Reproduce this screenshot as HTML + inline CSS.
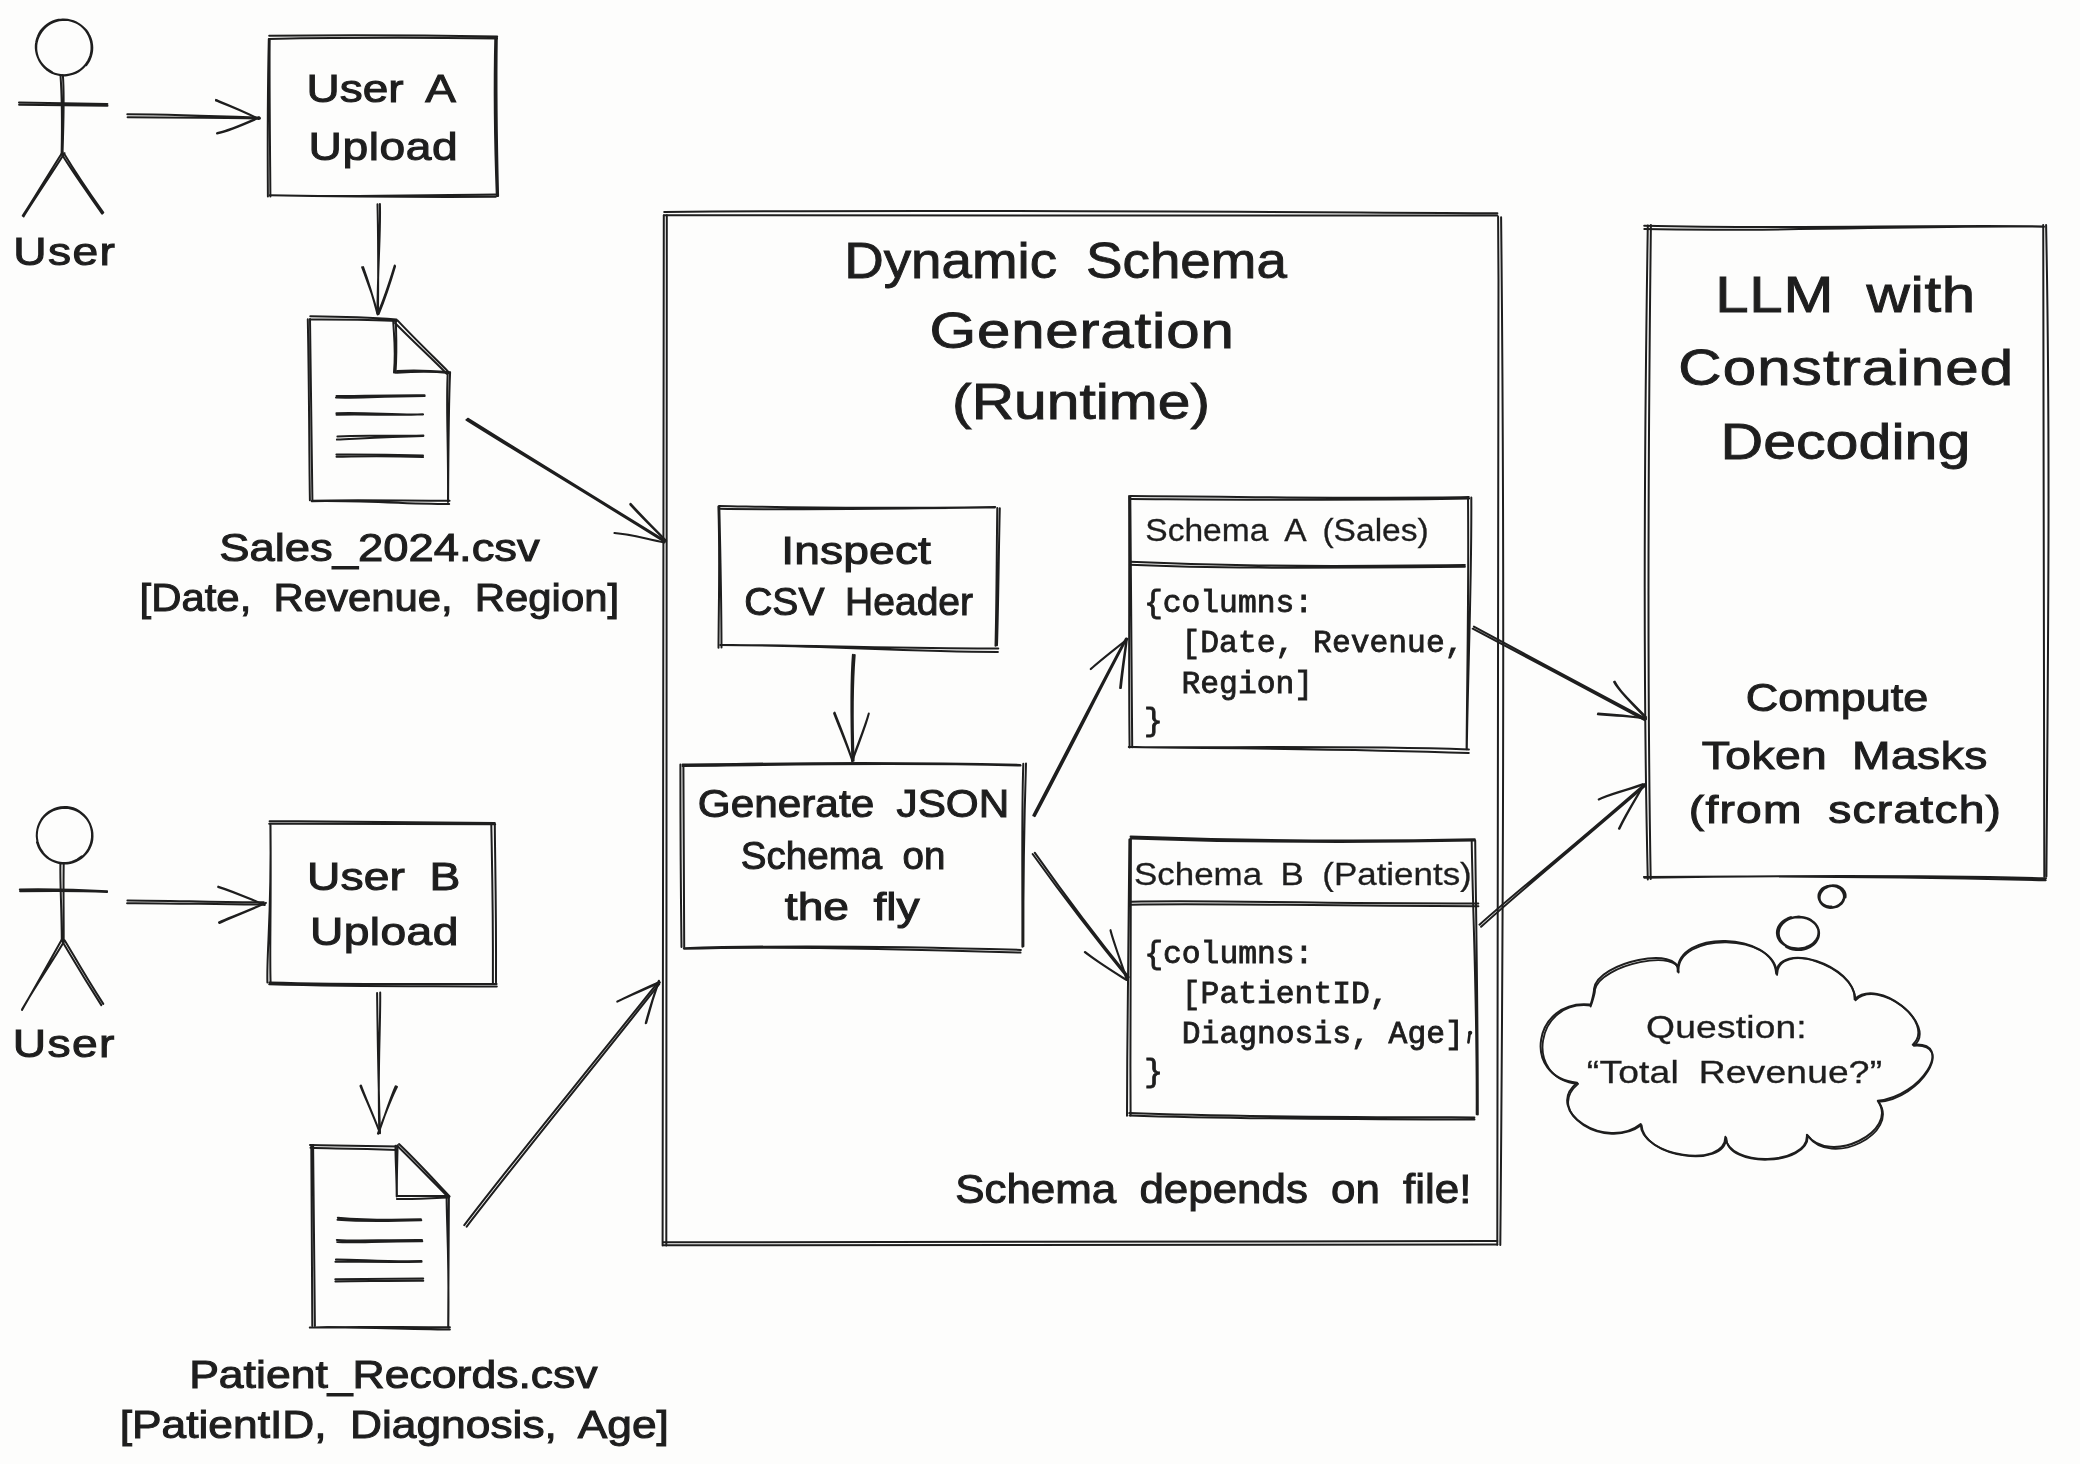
<!DOCTYPE html><html><head><meta charset="utf-8"><style>html,body{margin:0;padding:0;background:#fdfdfc;}svg{display:block}</style></head><body>
<svg width="2080" height="1464" viewBox="0 0 2080 1464">
<rect width="2080" height="1464" fill="#fdfdfc"/>
<g fill="none" stroke="#1e1e1e" stroke-linecap="round" stroke-linejoin="round">
<path d="M51.8 71.9C51.0 71.4 48.3 70.0 46.8 68.8C45.2 67.6 43.7 66.2 42.5 64.7C41.2 63.2 40.0 61.6 39.1 59.8C38.2 58.1 37.4 56.2 36.8 54.2C36.3 52.3 35.9 50.3 35.8 48.3C35.7 46.3 35.8 44.2 36.2 42.2C36.5 40.2 37.1 38.2 37.9 36.3C38.6 34.4 39.7 32.6 40.8 30.9C42.0 29.3 43.4 27.7 44.9 26.4C46.5 25.0 48.2 23.8 49.9 22.8C51.7 21.9 53.6 21.1 55.6 20.5C57.5 19.9 59.6 19.6 61.6 19.5C63.6 19.3 65.6 19.4 67.6 19.7C69.6 20.0 71.6 20.6 73.4 21.3C75.3 22.0 77.1 22.9 78.8 24.0C80.4 25.1 82.0 26.4 83.4 27.8C84.8 29.2 86.1 30.8 87.1 32.4C88.2 34.1 89.1 35.9 89.8 37.8C90.5 39.6 91.0 41.6 91.3 43.5C91.6 45.5 91.6 47.5 91.5 49.4C91.4 51.4 91.0 53.4 90.5 55.3C89.9 57.2 89.1 59.1 88.2 60.8C87.2 62.5 86.1 64.2 84.8 65.7C83.5 67.2 82.0 68.5 80.4 69.7C78.8 70.9 77.1 71.9 75.3 72.7C73.5 73.6 71.6 74.2 69.6 74.6C67.7 75.0 65.7 75.2 63.7 75.2C61.7 75.2 59.7 75.0 57.7 74.6C55.8 74.2 53.8 73.6 52.0 72.7C50.2 71.9 47.7 70.2 46.8 69.7 M89.8 57.4C89.4 58.3 88.2 61.1 87.1 62.8C86.0 64.5 84.7 66.1 83.3 67.5C81.8 68.9 80.2 70.2 78.5 71.3C76.8 72.3 74.9 73.2 73.0 73.9C71.1 74.6 69.0 75.0 67.0 75.2C65.0 75.5 62.9 75.5 60.9 75.3C58.9 75.0 56.9 74.6 54.9 73.9C53.0 73.3 51.1 72.4 49.4 71.3C47.7 70.3 46.0 69.0 44.6 67.6C43.1 66.2 41.8 64.5 40.7 62.8C39.6 61.1 38.7 59.3 38.0 57.4C37.3 55.5 36.8 53.5 36.5 51.5C36.2 49.5 36.2 47.4 36.3 45.4C36.5 43.4 36.9 41.3 37.5 39.4C38.1 37.5 39.0 35.6 40.0 33.9C41.0 32.1 42.2 30.5 43.5 29.0C44.9 27.5 46.4 26.1 48.1 25.0C49.7 23.8 51.5 22.8 53.3 22.0C55.2 21.3 57.2 20.7 59.1 20.3C61.1 19.9 63.2 19.8 65.2 19.8C67.2 19.9 69.2 20.2 71.2 20.7C73.1 21.2 75.1 21.9 76.9 22.8C78.7 23.7 80.4 24.9 82.0 26.2C83.6 27.4 85.0 28.9 86.3 30.5C87.6 32.1 88.7 33.9 89.5 35.8C90.4 37.6 91.1 39.6 91.6 41.6C92.0 43.6 92.3 45.7 92.3 47.7C92.3 49.8 92.1 51.9 91.6 53.9C91.2 55.9 90.5 57.9 89.6 59.8C88.7 61.7 86.9 64.2 86.4 65.1" stroke-width="2.0"/>
<path d="M62.9 75.3C64.6 97.7 63.4 121.0 62.5 154.8 M60.5 75.3C62.1 97.7 62.3 121.0 61.6 154.4" stroke-width="2.0"/>
<path d="M19.0 102.6C46.7 102.8 74.5 103.6 107.4 103.9 M19.1 104.7C46.7 105.1 74.5 105.3 107.5 105.7" stroke-width="2.0"/>
<path d="M64.5 153.2C48.8 177.8 33.6 200.4 23.6 216.4 M62.5 152.2C46.8 176.5 33.2 200.2 22.7 215.7" stroke-width="2.0"/>
<path d="M64.0 153.6C73.6 169.5 83.3 184.5 103.3 212.7 M62.0 154.6C71.7 170.8 82.2 185.2 102.1 213.6" stroke-width="2.0"/>
<path d="M42.7 852.2C42.2 851.4 40.4 848.9 39.5 847.1C38.6 845.3 38.0 843.3 37.5 841.3C37.1 839.3 36.8 837.2 36.8 835.2C36.8 833.1 37.1 831.0 37.5 829.0C38.0 827.0 38.7 825.0 39.6 823.2C40.6 821.3 41.7 819.5 43.0 817.9C44.4 816.3 45.9 814.8 47.5 813.6C49.2 812.3 51.0 811.2 52.9 810.3C54.8 809.5 56.9 808.8 58.9 808.4C60.9 808.0 63.1 807.8 65.2 807.8C67.3 807.9 69.4 808.2 71.4 808.7C73.4 809.2 75.4 810.0 77.3 810.9C79.1 811.8 80.9 813.0 82.5 814.4C84.1 815.7 85.6 817.2 86.9 818.9C88.1 820.6 89.2 822.4 90.1 824.3C90.9 826.2 91.6 828.2 92.0 830.3C92.4 832.3 92.6 834.4 92.5 836.5C92.5 838.6 92.2 840.7 91.7 842.7C91.1 844.7 90.4 846.7 89.4 848.5C88.5 850.3 87.3 852.1 85.9 853.7C84.6 855.2 83.1 856.7 81.4 857.9C79.8 859.1 78.0 860.2 76.1 861.0C74.2 861.8 72.3 862.5 70.3 862.9C68.3 863.3 66.2 863.5 64.2 863.5C62.1 863.5 60.0 863.2 58.1 862.7C56.1 862.3 54.1 861.6 52.3 860.7C50.4 859.8 48.6 858.7 47.0 857.5C45.4 856.2 43.9 854.7 42.6 853.2C41.2 851.6 40.1 849.8 39.1 847.9C38.2 846.1 37.3 843.0 36.9 842.1 M81.9 856.2C81.1 856.8 78.8 858.6 77.1 859.6C75.4 860.5 73.6 861.3 71.7 861.9C69.9 862.4 67.9 862.8 66.0 863.0C64.0 863.1 62.0 863.0 60.1 862.7C58.1 862.5 56.2 861.9 54.3 861.2C52.5 860.5 50.7 859.6 49.0 858.5C47.4 857.4 45.8 856.1 44.5 854.7C43.1 853.2 41.9 851.6 40.8 849.9C39.8 848.2 38.9 846.4 38.3 844.5C37.6 842.6 37.2 840.6 37.0 838.6C36.7 836.6 36.7 834.5 36.9 832.5C37.1 830.5 37.5 828.5 38.1 826.5C38.7 824.6 39.5 822.7 40.6 820.9C41.6 819.1 42.8 817.4 44.2 815.9C45.6 814.4 47.2 813.0 48.9 811.8C50.7 810.6 52.6 809.6 54.5 808.8C56.5 808.0 58.6 807.5 60.6 807.2C62.7 806.9 64.9 806.8 67.0 807.0C69.1 807.2 71.2 807.7 73.2 808.3C75.2 809.0 77.1 809.9 78.9 811.0C80.7 812.1 82.3 813.5 83.8 814.9C85.3 816.4 86.6 818.1 87.7 819.8C88.8 821.5 89.7 823.4 90.4 825.3C91.1 827.2 91.5 829.2 91.8 831.2C92.1 833.2 92.1 835.3 92.0 837.3C91.8 839.2 91.5 841.3 90.9 843.2C90.4 845.1 89.6 846.9 88.7 848.7C87.7 850.4 86.6 852.1 85.4 853.6C84.1 855.2 82.6 856.6 81.1 857.8C79.5 859.0 76.8 860.4 76.0 861.0" stroke-width="2.0"/>
<path d="M63.7 863.8C63.3 885.6 63.7 905.8 63.7 941.1 M60.4 864.0C60.0 885.6 61.6 905.8 61.8 940.6" stroke-width="2.0"/>
<path d="M20.1 891.3C52.9 890.8 87.0 891.1 107.1 891.9 M19.8 889.4C52.9 888.9 87.0 890.1 107.1 891.3" stroke-width="2.0"/>
<path d="M64.2 941.3C51.6 962.9 36.9 983.7 22.0 1009.5 M61.7 939.8C49.4 961.6 37.1 983.8 22.0 1010.0" stroke-width="2.0"/>
<path d="M64.6 940.2C73.3 954.4 82.1 971.0 103.3 1003.9 M62.2 941.3C71.0 955.8 80.1 972.2 101.3 1005.1" stroke-width="2.0"/>
<path d="M127.6 117.3C169.9 117.5 214.8 117.1 260.0 118.5 M127.3 114.3C169.9 114.5 214.8 116.0 259.8 117.7" stroke-width="2.0"/>
<path d="M216.0 99.9C228.3 104.9 241.4 110.1 258.8 119.0 M216.0 100.6C228.1 105.3 241.4 110.2 258.4 118.9" stroke-width="2.0"/>
<path d="M217.3 133.0C228.3 130.7 237.5 126.9 259.0 117.2 M217.0 133.5C228.5 131.1 237.6 127.3 259.1 117.7" stroke-width="2.0"/>
<path d="M127.1 903.2C170.9 902.9 216.3 904.6 264.0 904.6 M127.4 900.4C170.9 900.4 216.3 902.5 263.8 902.3" stroke-width="2.0"/>
<path d="M218.1 887.0C233.2 891.6 248.4 898.4 264.8 905.0 M218.3 886.6C233.4 891.2 248.4 898.2 264.4 904.8" stroke-width="2.0"/>
<path d="M219.4 923.0C228.7 918.5 237.8 915.3 265.7 903.1 M219.0 922.3C228.5 917.9 237.7 915.0 265.9 902.8" stroke-width="2.0"/>
<path d="M268.8 38.9C340.2 37.7 412.1 37.5 497.1 38.4 M269.2 35.7C340.2 34.8 412.1 35.0 497.2 36.4" stroke-width="2.0"/>
<path d="M496.8 37.4C495.9 95.7 497.1 155.9 498.1 196.1 M495.3 37.1C493.9 95.7 495.3 155.9 496.8 196.0" stroke-width="2.0"/>
<path d="M495.8 196.8C429.2 197.1 360.3 197.0 269.8 195.3 M495.6 194.4C429.2 194.6 360.3 197.5 269.8 195.3" stroke-width="2.0"/>
<path d="M267.9 196.4C267.5 134.8 268.1 70.2 268.8 39.6 M270.4 196.4C269.9 134.8 269.2 70.2 269.7 39.4" stroke-width="2.0"/>
<path d="M269.2 823.8C349.9 823.9 433.1 823.7 495.2 824.2 M269.6 821.2C349.9 821.5 433.1 822.6 494.8 823.1" stroke-width="2.0"/>
<path d="M494.8 824.7C495.1 864.1 496.3 903.2 496.0 982.6 M491.3 824.2C492.0 864.1 493.2 903.2 492.9 983.1" stroke-width="2.0"/>
<path d="M496.6 984.0C428.1 983.6 360.5 985.1 269.3 982.5 M496.8 986.5C428.1 985.9 360.5 986.9 269.2 984.2" stroke-width="2.0"/>
<path d="M270.6 982.8C269.5 949.1 271.3 917.8 270.5 824.9 M267.4 982.6C266.6 949.1 271.7 917.8 270.4 824.8" stroke-width="2.0"/>
<path d="M377.5 204.3C378.2 231.9 378.4 260.8 378.0 313.3 M379.9 203.9C380.8 231.9 377.9 260.8 377.4 312.9" stroke-width="2.0"/>
<path d="M362.1 267.2C366.6 279.2 371.4 290.5 378.1 314.2 M363.1 267.1C367.4 278.9 371.4 290.5 377.6 314.5" stroke-width="2.0"/>
<path d="M395.1 266.1C390.4 282.1 385.4 297.4 378.7 313.9 M394.7 265.5C389.7 281.9 385.0 297.3 377.8 313.4" stroke-width="2.0"/>
<path d="M377.1 992.9C377.6 1031.2 377.9 1067.6 380.0 1133.3 M380.2 992.6C380.5 1031.1 377.5 1067.7 379.3 1133.1" stroke-width="2.0"/>
<path d="M361.0 1085.5C365.4 1097.5 370.5 1108.6 379.6 1131.7 M360.4 1085.9C365.0 1097.6 370.5 1108.6 379.5 1131.8" stroke-width="2.0"/>
<path d="M395.7 1086.2C391.3 1095.8 388.3 1105.6 378.4 1133.6 M397.0 1086.9C392.1 1096.1 388.3 1105.6 377.9 1133.6" stroke-width="2.0"/>
<path d="M310.5 319.4C343.1 319.4 373.4 319.2 396.6 321.0 M310.3 316.2C343.1 316.6 373.4 317.7 396.4 319.4" stroke-width="2.0"/>
<path d="M397.5 320.4C416.0 340.1 435.7 358.9 448.2 371.6 M395.0 323.0C413.9 342.2 434.0 360.6 446.7 373.8" stroke-width="2.0"/>
<path d="M450.1 372.2C448.6 405.1 448.4 437.5 448.1 501.8 M447.8 372.1C445.8 405.1 448.5 437.5 448.0 502.0" stroke-width="2.0"/>
<path d="M449.6 500.8C400.6 500.7 349.7 499.6 312.0 500.8 M449.2 504.0C400.6 503.6 349.7 500.0 311.7 501.2" stroke-width="2.0"/>
<path d="M312.4 500.3C311.7 451.8 311.4 403.4 310.0 319.0 M309.9 500.2C309.1 451.8 309.4 403.4 307.8 319.3" stroke-width="2.0"/>
<path d="M395.8 320.1C396.1 334.6 397.2 349.0 395.5 372.8 M393.2 320.0C393.7 334.6 396.1 349.0 394.0 372.6" stroke-width="2.0"/>
<path d="M396.8 372.8C416.5 371.5 437.3 371.8 448.9 373.0 M397.0 371.1C416.5 369.5 437.3 371.2 449.4 372.3" stroke-width="2.0"/>
<path d="M336.5 395.9C355.0 396.4 373.2 395.0 424.6 395.2 M336.0 397.5C355.0 398.3 373.2 396.5 424.7 396.1" stroke-width="2.0"/>
<path d="M336.5 414.7C366.9 413.9 395.8 415.7 422.9 414.3 M336.4 413.3C366.9 412.1 395.8 415.4 423.1 414.4" stroke-width="2.0"/>
<path d="M337.4 436.4C361.7 435.1 387.9 436.5 423.4 435.5 M336.9 439.6C361.7 438.4 387.9 436.7 423.3 435.9" stroke-width="2.0"/>
<path d="M336.4 454.4C358.3 454.5 378.9 454.3 423.0 455.6 M336.5 456.7C358.3 456.5 378.9 455.4 423.0 457.1" stroke-width="2.0"/>
<path d="M310.0 1145.0C329.5 1145.6 348.0 1145.1 397.4 1146.5 M310.5 1147.8C329.5 1148.6 348.0 1148.1 397.1 1149.9" stroke-width="2.0"/>
<path d="M397.2 1145.7C414.9 1162.9 432.1 1180.8 448.5 1197.5 M399.0 1144.1C416.8 1161.0 433.5 1179.4 449.6 1196.4" stroke-width="2.0"/>
<path d="M448.9 1196.4C448.5 1225.4 448.9 1253.6 448.2 1327.3 M446.6 1196.8C446.7 1225.4 449.2 1253.6 448.3 1327.5" stroke-width="2.0"/>
<path d="M449.9 1327.3C395.9 1327.3 343.7 1326.3 309.8 1327.6 M449.9 1329.6C395.9 1329.2 343.7 1326.4 310.3 1327.6" stroke-width="2.0"/>
<path d="M312.3 1326.1C312.0 1282.4 312.1 1237.2 311.3 1145.5 M314.9 1326.1C314.5 1282.4 313.9 1237.2 313.1 1145.1" stroke-width="2.0"/>
<path d="M397.6 1145.3C397.4 1159.4 396.6 1174.7 396.9 1196.3 M395.5 1145.7C395.3 1159.4 396.7 1174.7 396.7 1196.4" stroke-width="2.0"/>
<path d="M397.1 1196.0C415.2 1195.9 433.4 1196.3 448.1 1195.9 M396.9 1199.1C415.2 1199.1 433.4 1197.9 448.6 1197.5" stroke-width="2.0"/>
<path d="M337.5 1219.8C357.5 1221.3 379.4 1221.5 421.3 1220.3 M337.8 1217.7C357.5 1219.4 379.4 1220.5 420.9 1219.3" stroke-width="2.0"/>
<path d="M336.8 1239.9C356.9 1241.3 376.5 1239.9 422.0 1240.0 M337.2 1242.1C356.9 1243.2 376.5 1241.1 422.3 1241.2" stroke-width="2.0"/>
<path d="M335.4 1261.7C359.9 1261.7 384.2 1262.3 421.6 1261.8 M335.9 1259.4C359.9 1259.3 384.2 1261.9 421.5 1261.0" stroke-width="2.0"/>
<path d="M335.4 1281.4C367.0 1281.2 396.1 1280.6 423.3 1280.7 M335.3 1279.3C367.0 1278.7 396.1 1278.7 423.2 1278.4" stroke-width="2.0"/>
<path d="M466.5 419.9C506.2 445.1 546.5 468.7 664.7 541.8 M467.8 418.7C507.2 443.4 546.9 468.0 664.8 540.7" stroke-width="2.0"/>
<path d="M630.5 503.7C644.7 519.3 658.7 533.1 666.2 541.0 M630.3 504.6C644.1 519.8 658.6 533.2 665.7 540.9" stroke-width="2.0"/>
<path d="M614.4 533.1C631.3 534.4 645.8 538.9 664.4 542.5 M614.5 533.0C631.3 534.2 645.8 538.9 664.5 542.3" stroke-width="2.0"/>
<path d="M464.3 1225.1C518.5 1154.0 574.7 1087.0 657.5 982.8 M466.7 1226.6C520.9 1156.0 576.6 1088.5 659.2 984.2" stroke-width="2.0"/>
<path d="M617.4 1001.5C630.0 995.5 641.6 989.8 659.6 982.0 M617.2 1001.6C630.2 995.9 641.8 990.2 659.9 982.5" stroke-width="2.0"/>
<path d="M646.2 1023.0C648.8 1013.6 650.7 1004.7 659.0 981.0 M645.7 1023.2C648.2 1013.4 650.6 1004.7 658.8 980.7" stroke-width="2.0"/>
<path d="M663.8 215.3C991.0 214.7 1318.9 215.9 1497.4 215.6 M664.2 211.9C991.0 209.3 1318.9 212.5 1497.4 213.2" stroke-width="2.0"/>
<path d="M1498.1 216.7C1500.4 563.3 1499.7 910.8 1497.3 1244.7 M1501.1 217.2C1504.9 563.3 1503.3 910.8 1500.3 1245.1" stroke-width="2.0"/>
<path d="M1497.3 1244.5C1181.9 1246.1 864.9 1245.2 663.5 1245.3 M1497.3 1241.1C1181.9 1241.6 864.9 1241.5 663.3 1242.3" stroke-width="2.0"/>
<path d="M662.6 1245.6C662.3 963.7 661.0 682.0 663.8 215.6 M666.3 1245.6C667.4 963.7 665.3 682.0 666.8 215.2" stroke-width="2.0"/>
<path d="M719.2 505.9C777.5 507.0 831.4 509.3 995.2 506.9 M719.0 508.8C777.5 510.1 831.4 509.4 994.8 507.4" stroke-width="2.0"/>
<path d="M997.3 507.9C996.6 557.5 996.6 605.8 995.5 645.8 M999.8 508.3C998.6 557.5 998.3 605.8 997.0 645.3" stroke-width="2.0"/>
<path d="M998.3 648.4C905.3 648.7 817.6 645.2 720.5 645.0 M997.9 652.0C905.3 651.9 817.6 645.3 720.2 645.0" stroke-width="2.0"/>
<path d="M721.5 647.6C721.4 601.9 720.5 557.4 719.3 506.2 M718.5 647.7C718.7 601.9 720.1 557.4 718.4 506.6" stroke-width="2.0"/>
<path d="M852.9 654.7C851.0 678.0 850.7 703.5 852.3 760.4 M854.7 655.0C852.9 678.0 851.7 703.5 853.6 760.8" stroke-width="2.0"/>
<path d="M834.1 713.3C840.5 730.0 848.6 749.1 852.3 760.8 M834.6 712.6C841.3 729.8 849.1 748.9 852.3 760.9" stroke-width="2.0"/>
<path d="M868.8 713.5C865.3 725.8 859.8 739.3 852.0 760.8 M868.8 713.6C865.8 726.0 860.0 739.4 852.2 761.2" stroke-width="2.0"/>
<path d="M682.6 766.0C773.1 765.7 864.5 761.8 1020.6 765.6 M682.6 764.5C773.1 763.9 864.5 761.0 1020.3 764.9" stroke-width="2.0"/>
<path d="M1023.3 763.7C1021.6 814.4 1022.5 862.1 1022.4 946.7 M1026.0 763.5C1024.4 814.4 1023.1 862.1 1023.4 946.3" stroke-width="2.0"/>
<path d="M1020.9 949.9C894.3 946.2 768.5 945.5 683.8 948.2 M1020.5 952.6C894.3 948.6 768.5 946.0 684.0 948.8" stroke-width="2.0"/>
<path d="M684.2 946.9C684.0 906.2 683.3 861.1 683.4 764.9 M681.5 947.0C681.0 906.2 680.4 861.1 680.4 764.6" stroke-width="2.0"/>
<path d="M1033.3 815.4C1069.7 745.8 1105.2 676.3 1126.0 638.5 M1034.8 816.1C1071.5 746.8 1106.2 676.9 1126.9 638.6" stroke-width="2.0"/>
<path d="M1090.7 669.1C1102.5 658.7 1116.1 648.3 1127.6 639.0 M1090.9 668.9C1102.4 658.6 1116.0 648.2 1127.3 639.2" stroke-width="2.0"/>
<path d="M1120.1 688.0C1122.0 670.0 1124.8 652.3 1126.4 639.9 M1120.9 687.9C1122.7 670.1 1125.3 652.4 1126.8 639.9" stroke-width="2.0"/>
<path d="M1032.6 854.0C1062.7 895.8 1092.8 935.4 1127.9 978.1 M1034.7 852.7C1064.3 894.6 1094.0 934.5 1128.7 977.2" stroke-width="2.0"/>
<path d="M1084.8 952.1C1098.4 962.4 1112.6 971.2 1126.3 979.9 M1085.2 952.0C1098.4 962.5 1112.6 971.2 1125.9 979.7" stroke-width="2.0"/>
<path d="M1110.5 930.4C1112.8 940.0 1117.3 951.5 1126.7 978.6 M1110.5 930.1C1112.9 939.9 1117.4 951.5 1126.4 978.9" stroke-width="2.0"/>
<path d="M1130.6 496.0C1254.5 496.7 1374.9 499.0 1468.8 497.1 M1130.9 499.0C1254.5 499.7 1374.9 500.7 1469.1 498.6" stroke-width="2.0"/>
<path d="M1468.0 497.2C1468.9 584.2 1467.2 669.4 1466.6 748.8 M1471.3 497.6C1471.8 584.2 1467.9 669.4 1466.8 749.2" stroke-width="2.0"/>
<path d="M1468.9 749.5C1336.5 745.1 1212.6 748.2 1129.1 747.0 M1468.8 753.0C1336.5 748.3 1212.6 748.3 1128.8 747.0" stroke-width="2.0"/>
<path d="M1132.2 747.3C1131.6 671.9 1130.6 593.7 1130.3 496.2 M1129.6 747.4C1128.6 671.9 1129.6 593.7 1129.1 495.9" stroke-width="2.0"/>
<path d="M1130.1 561.8C1207.0 565.3 1284.1 567.0 1464.9 565.1 M1129.9 564.7C1207.0 568.2 1284.1 568.2 1464.9 566.8" stroke-width="2.0"/>
<path d="M1130.5 838.4C1243.8 842.4 1364.5 842.8 1474.5 840.6 M1130.6 836.4C1243.8 840.6 1364.5 841.5 1474.8 839.3" stroke-width="2.0"/>
<path d="M1475.2 840.4C1476.1 921.8 1477.8 1001.6 1477.8 1114.6 M1471.7 840.4C1473.0 921.8 1477.2 1001.6 1476.7 1114.3" stroke-width="2.0"/>
<path d="M1474.4 1117.4C1357.2 1117.2 1238.4 1117.3 1129.3 1113.1 M1474.5 1119.6C1357.2 1119.3 1238.4 1119.2 1129.6 1115.4" stroke-width="2.0"/>
<path d="M1130.6 1115.4C1130.2 1025.4 1130.2 938.0 1130.9 839.0 M1127.0 1115.8C1127.0 1025.4 1129.2 938.0 1129.4 839.4" stroke-width="2.0"/>
<path d="M1131.5 904.7C1206.5 903.0 1288.0 905.7 1478.4 906.2 M1131.5 901.8C1206.5 899.9 1288.0 903.4 1478.3 903.5" stroke-width="2.0"/>
<path d="M1473.9 626.6C1531.9 657.7 1587.3 688.0 1646.0 719.0 M1472.7 628.7C1531.1 659.3 1586.8 689.0 1645.1 720.4" stroke-width="2.0"/>
<path d="M1614.1 682.0C1618.8 690.8 1626.8 698.3 1645.4 717.6 M1614.8 681.6C1619.3 690.4 1627.1 698.0 1646.1 717.1" stroke-width="2.0"/>
<path d="M1598.1 713.4C1612.8 714.3 1630.6 716.1 1645.7 718.6 M1597.8 714.3C1612.7 715.2 1630.6 716.0 1645.6 718.6" stroke-width="2.0"/>
<path d="M1479.5 924.7C1516.0 892.0 1554.9 861.9 1644.3 784.4 M1481.1 926.8C1517.4 893.7 1555.7 862.8 1645.2 785.7" stroke-width="2.0"/>
<path d="M1598.8 799.3C1607.1 795.0 1616.5 793.1 1642.7 784.1 M1598.7 799.5C1607.2 795.4 1616.6 793.3 1642.4 784.7" stroke-width="2.0"/>
<path d="M1618.9 828.6C1626.2 813.2 1636.8 796.8 1644.0 784.2 M1619.4 828.8C1626.6 813.4 1637.0 796.9 1644.0 784.6" stroke-width="2.0"/>
<path d="M1644.2 225.7C1784.4 229.2 1920.8 224.8 2043.6 226.4 M1644.3 229.1C1784.4 232.2 1920.8 225.0 2044.0 226.7" stroke-width="2.0"/>
<path d="M2043.2 225.1C2045.3 418.2 2044.9 610.9 2044.3 876.8 M2046.1 225.0C2050.0 418.2 2048.5 610.9 2046.4 876.6" stroke-width="2.0"/>
<path d="M2046.0 878.3C1916.7 875.2 1790.5 875.5 1644.4 877.7 M2045.7 880.2C1916.7 877.4 1790.5 875.2 1643.9 877.0" stroke-width="2.0"/>
<path d="M1647.8 879.4C1642.9 675.3 1644.0 470.7 1647.8 225.4 M1650.7 879.1C1647.1 675.3 1648.0 470.7 1650.9 225.1" stroke-width="2.0"/>
<path d="M1843.7 892.7C1843.8 893.1 1844.2 894.3 1844.3 895.0C1844.4 895.8 1844.3 896.6 1844.2 897.3C1844.1 898.1 1843.9 898.8 1843.6 899.6C1843.3 900.3 1843.0 901.0 1842.5 901.7C1842.1 902.3 1841.6 902.9 1841.0 903.5C1840.4 904.1 1839.7 904.7 1839.0 905.2C1838.3 905.6 1837.5 906.1 1836.6 906.4C1835.8 906.8 1834.8 907.1 1833.9 907.3C1833.0 907.5 1832.0 907.6 1831.0 907.6C1830.0 907.6 1829.0 907.5 1828.0 907.3C1827.0 907.1 1826.1 906.7 1825.2 906.3C1824.3 905.9 1823.5 905.4 1822.8 904.8C1822.1 904.2 1821.5 903.5 1821.0 902.8C1820.5 902.1 1820.1 901.3 1819.8 900.5C1819.6 899.7 1819.4 898.9 1819.4 898.1C1819.4 897.3 1819.4 896.5 1819.6 895.7C1819.8 895.0 1820.0 894.2 1820.3 893.5C1820.7 892.8 1821.1 892.1 1821.5 891.5C1822.0 890.8 1822.6 890.2 1823.1 889.7C1823.7 889.1 1824.4 888.6 1825.1 888.1C1825.8 887.6 1826.6 887.2 1827.4 886.8C1828.2 886.5 1829.1 886.2 1830.0 886.0C1831.0 885.8 1831.9 885.6 1832.9 885.6C1833.9 885.6 1834.9 885.6 1835.9 885.8C1836.8 886.0 1837.8 886.3 1838.7 886.6C1839.6 887.0 1840.5 887.5 1841.2 888.1C1842.0 888.6 1842.7 889.3 1843.2 890.0C1843.8 890.7 1844.3 891.5 1844.6 892.3C1844.9 893.1 1845.2 893.9 1845.3 894.7C1845.4 895.6 1845.3 896.8 1845.3 897.2 M1831.4 906.8C1830.9 906.8 1829.6 906.8 1828.7 906.6C1827.8 906.5 1826.9 906.2 1826.0 905.9C1825.2 905.6 1824.3 905.2 1823.6 904.7C1822.9 904.2 1822.2 903.7 1821.6 903.1C1821.0 902.4 1820.4 901.7 1820.0 901.0C1819.6 900.3 1819.2 899.5 1819.0 898.7C1818.8 898.0 1818.7 897.1 1818.7 896.3C1818.7 895.5 1818.8 894.7 1819.0 893.9C1819.2 893.1 1819.6 892.3 1820.0 891.6C1820.4 890.9 1821.0 890.2 1821.6 889.5C1822.2 888.9 1822.9 888.3 1823.7 887.8C1824.4 887.3 1825.3 886.9 1826.2 886.6C1827.0 886.3 1828.0 886.0 1828.9 885.9C1829.9 885.7 1830.8 885.6 1831.8 885.7C1832.7 885.7 1833.7 885.8 1834.6 886.0C1835.5 886.2 1836.3 886.5 1837.2 886.8C1838.0 887.2 1838.8 887.6 1839.5 888.1C1840.2 888.6 1840.8 889.2 1841.4 889.8C1841.9 890.3 1842.4 891.0 1842.8 891.7C1843.2 892.3 1843.5 893.0 1843.7 893.8C1844.0 894.5 1844.1 895.2 1844.2 896.0C1844.2 896.7 1844.2 897.5 1844.0 898.2C1843.9 898.9 1843.7 899.7 1843.4 900.4C1843.1 901.1 1842.7 901.8 1842.2 902.4C1841.7 903.1 1841.2 903.7 1840.5 904.3C1839.9 904.8 1839.2 905.4 1838.4 905.8C1837.6 906.2 1836.8 906.6 1835.9 906.9C1835.0 907.2 1834.1 907.4 1833.1 907.6C1832.2 907.7 1831.2 907.7 1830.2 907.7C1829.2 907.6 1827.8 907.3 1827.3 907.2" stroke-width="2.5"/>
<path d="M1789.3 947.3C1788.7 947.0 1786.8 946.1 1785.8 945.4C1784.7 944.7 1783.7 943.9 1782.8 943.0C1782.0 942.2 1781.3 941.2 1780.7 940.3C1780.1 939.3 1779.6 938.3 1779.2 937.2C1778.9 936.2 1778.7 935.1 1778.6 934.1C1778.5 933.0 1778.6 932.0 1778.8 930.9C1778.9 929.9 1779.3 928.8 1779.7 927.8C1780.1 926.8 1780.7 925.8 1781.4 924.9C1782.1 924.0 1782.9 923.1 1783.8 922.3C1784.7 921.4 1785.8 920.7 1786.9 920.0C1788.1 919.4 1789.3 918.8 1790.6 918.4C1791.9 917.9 1793.3 917.6 1794.7 917.3C1796.1 917.1 1797.6 917.0 1799.1 917.0C1800.5 917.1 1802.0 917.2 1803.5 917.5C1804.9 917.8 1806.3 918.2 1807.6 918.7C1808.9 919.3 1810.2 919.9 1811.4 920.7C1812.5 921.4 1813.6 922.3 1814.5 923.2C1815.4 924.1 1816.2 925.1 1816.8 926.2C1817.5 927.2 1818.0 928.4 1818.3 929.5C1818.7 930.7 1818.9 931.9 1818.9 933.0C1818.9 934.2 1818.8 935.4 1818.5 936.6C1818.2 937.8 1817.7 938.9 1817.1 940.0C1816.5 941.1 1815.8 942.2 1814.9 943.2C1814.0 944.1 1812.9 945.0 1811.7 945.8C1810.6 946.6 1809.3 947.3 1807.9 947.9C1806.6 948.5 1805.1 948.9 1803.6 949.3C1802.1 949.6 1800.6 949.8 1799.0 949.8C1797.5 949.9 1795.9 949.8 1794.4 949.5C1792.9 949.3 1791.5 948.9 1790.1 948.5C1788.7 948.0 1786.8 947.0 1786.2 946.7 M1786.2 920.3C1786.8 920.0 1788.6 919.0 1789.9 918.6C1791.2 918.1 1792.7 917.7 1794.1 917.4C1795.5 917.2 1797.0 917.0 1798.5 917.0C1800.0 917.0 1801.5 917.1 1803.0 917.4C1804.5 917.6 1806.0 918.0 1807.3 918.5C1808.7 919.0 1810.0 919.7 1811.2 920.4C1812.4 921.2 1813.5 922.1 1814.5 923.0C1815.4 923.9 1816.3 925.0 1816.9 926.1C1817.5 927.2 1818.0 928.4 1818.3 929.5C1818.6 930.7 1818.7 931.9 1818.6 933.1C1818.6 934.3 1818.3 935.5 1817.9 936.7C1817.5 937.8 1816.9 938.9 1816.2 940.0C1815.5 941.0 1814.6 942.0 1813.7 942.8C1812.7 943.7 1811.6 944.5 1810.4 945.2C1809.2 945.9 1808.0 946.5 1806.6 947.0C1805.3 947.5 1803.9 947.9 1802.5 948.1C1801.1 948.4 1799.6 948.5 1798.2 948.6C1796.7 948.6 1795.2 948.5 1793.8 948.3C1792.4 948.1 1791.0 947.8 1789.6 947.3C1788.3 946.9 1787.0 946.4 1785.8 945.7C1784.6 945.1 1783.4 944.3 1782.4 943.4C1781.4 942.6 1780.5 941.7 1779.8 940.7C1779.1 939.7 1778.4 938.6 1778.0 937.5C1777.6 936.4 1777.3 935.2 1777.2 934.0C1777.0 932.9 1777.1 931.7 1777.3 930.5C1777.5 929.4 1777.9 928.2 1778.4 927.1C1778.9 926.0 1779.6 925.0 1780.4 924.0C1781.2 923.0 1782.2 922.1 1783.3 921.2C1784.3 920.4 1785.5 919.6 1786.8 919.0C1788.1 918.3 1790.2 917.6 1790.9 917.3" stroke-width="2.4"/>
<path d="M1594.1 988.6 C1597.7 961.8 1681.3 944.8 1677.7 971.6 C1675.6 929.2 1774.1 931.4 1776.2 973.8 C1777.5 939.8 1855.9 965.2 1854.6 999.2 C1878.3 977.3 1936.5 1022.8 1912.8 1044.7 C1955.9 1041.0 1920.9 1097.1 1877.8 1100.8 C1899.7 1131.8 1828.8 1165.7 1806.9 1134.7 C1809.0 1165.7 1727.5 1167.8 1725.4 1136.8 C1725.3 1169.3 1640.6 1156.5 1640.7 1124.0 C1606.1 1151.5 1542.6 1110.3 1577.2 1082.8 C1520.7 1077.1 1533.4 998.8 1589.9 1004.5 C1589.9 1009.1 1594.1 993.2 1594.1 988.6" stroke-width="2.0"/>
<path transform="translate(0.9 1.1)" d="M1594.1 988.6 C1598.9 963.5 1681.5 946.1 1677.7 971.6 C1674.1 930.2 1776.0 931.1 1776.2 973.8 C1776.6 938.8 1854.9 964.8 1854.6 999.2 C1878.0 975.9 1937.9 1024.7 1912.8 1044.7 C1954.4 1041.6 1920.6 1097.2 1877.8 1100.8 C1899.8 1131.6 1830.0 1167.5 1806.9 1134.7 C1808.1 1165.1 1725.6 1167.4 1725.4 1136.8 C1724.4 1168.1 1642.0 1156.6 1640.7 1124.0 C1605.0 1150.2 1543.0 1111.6 1577.2 1082.8 C1522.3 1078.1 1534.5 997.5 1589.9 1004.5 C1588.4 1009.8 1594.6 992.0 1594.1 988.6" stroke-width="1.8"/>
</g>
<g fill="#1e1e1e" stroke="#1e1e1e" opacity="0.999">
<text transform="translate(13.30 264.50) scale(1.2000 1)" font-family="Liberation Sans" font-size="38.50" stroke-width="1.0" letter-spacing="1.122" word-spacing="9.62">User</text>
<text transform="translate(12.80 1057.00) scale(1.2000 1)" font-family="Liberation Sans" font-size="38.50" stroke-width="1.0" letter-spacing="1.149" word-spacing="9.62">User</text>
<text transform="translate(306.52 101.80) scale(1.1946 1)" font-family="Liberation Sans" font-size="38.50" stroke-width="1.0" letter-spacing="0.000" word-spacing="9.62">User A</text>
<text transform="translate(308.50 159.60) scale(1.2000 1)" font-family="Liberation Sans" font-size="38.50" stroke-width="1.0" letter-spacing="0.463" word-spacing="9.62">Upload</text>
<text transform="translate(307.00 889.50) scale(1.2000 1)" font-family="Liberation Sans" font-size="38.50" stroke-width="1.0" letter-spacing="0.091" word-spacing="9.62">User B</text>
<text transform="translate(309.90 945.40) scale(1.2000 1)" font-family="Liberation Sans" font-size="38.50" stroke-width="1.0" letter-spacing="0.346" word-spacing="9.62">Upload</text>
<text transform="translate(219.13 560.90) scale(1.1800 1)" font-family="Liberation Sans" font-size="38.50" stroke-width="1.0" letter-spacing="0.000" word-spacing="9.62">Sales_2024.csv</text>
<text transform="translate(139.57 610.90) scale(1.0881 1)" font-family="Liberation Sans" font-size="38.50" stroke-width="1.0" letter-spacing="0.000" word-spacing="9.62">[Date, Revenue, Region]</text>
<text transform="translate(189.14 1387.50) scale(1.1574 1)" font-family="Liberation Sans" font-size="38.50" stroke-width="1.0" letter-spacing="0.000" word-spacing="9.62">Patient_Records.csv</text>
<text transform="translate(119.70 1438.20) scale(1.1513 1)" font-family="Liberation Sans" font-size="38.50" stroke-width="1.0" letter-spacing="0.000" word-spacing="9.62">[PatientID, Diagnosis, Age]</text>
<text transform="translate(844.17 278.10) scale(1.0951 1)" font-family="Liberation Sans" font-size="50.00" stroke-width="0.9" letter-spacing="0.000" word-spacing="12.50">Dynamic Schema</text>
<text transform="translate(929.45 348.20) scale(1.2000 1)" font-family="Liberation Sans" font-size="50.00" stroke-width="0.9" letter-spacing="0.694" word-spacing="12.50">Generation</text>
<text transform="translate(952.12 419.00) scale(1.1752 1)" font-family="Liberation Sans" font-size="50.00" stroke-width="0.9" letter-spacing="0.000" word-spacing="12.50">(Runtime)</text>
<text transform="translate(781.34 563.80) scale(1.2000 1)" font-family="Liberation Sans" font-size="38.50" stroke-width="1.0" letter-spacing="0.096" word-spacing="9.62">Inspect</text>
<text transform="translate(744.15 615.00) scale(1.0143 1)" font-family="Liberation Sans" font-size="38.50" stroke-width="1.0" letter-spacing="-0.000" word-spacing="9.62">CSV Header</text>
<text transform="translate(697.78 817.20) scale(1.0993 1)" font-family="Liberation Sans" font-size="38.50" stroke-width="1.0" letter-spacing="0.000" word-spacing="9.62">Generate JSON</text>
<text transform="translate(740.87 868.50) scale(1.0009 1)" font-family="Liberation Sans" font-size="38.50" stroke-width="1.0" letter-spacing="0.000" word-spacing="9.62">Schema on</text>
<text transform="translate(784.78 919.90) scale(1.2000 1)" font-family="Liberation Sans" font-size="38.50" stroke-width="1.0" letter-spacing="0.011" word-spacing="9.62">the fly</text>
<text transform="translate(1145.27 541.20) scale(1.0826 1)" font-family="Liberation Sans" font-size="31.00" stroke-width="0.3" letter-spacing="0.000" word-spacing="7.75">Schema A (Sales)</text>
<text transform="translate(1134.00 884.80) scale(1.1270 1)" font-family="Liberation Sans" font-size="31.00" stroke-width="0.3" letter-spacing="0.000" word-spacing="7.75">Schema B (Patients)</text>
<text transform="translate(955.20 1203.00) scale(1.0713 1)" font-family="Liberation Sans" font-size="41.00" stroke-width="1.0" letter-spacing="0.000" word-spacing="10.25">Schema depends on file!</text>
<text transform="translate(1715.25 312.20) scale(1.2000 1)" font-family="Liberation Sans" font-size="50.00" stroke-width="0.9" letter-spacing="0.583" word-spacing="12.50">LLM with</text>
<text transform="translate(1678.35 384.50) scale(1.2000 1)" font-family="Liberation Sans" font-size="50.00" stroke-width="0.9" letter-spacing="0.942" word-spacing="12.50">Constrained</text>
<text transform="translate(1720.42 459.40) scale(1.1833 1)" font-family="Liberation Sans" font-size="50.00" stroke-width="0.9" letter-spacing="0.000" word-spacing="12.50">Decoding</text>
<text transform="translate(1745.65 711.30) scale(1.1695 1)" font-family="Liberation Sans" font-size="38.50" stroke-width="1.0" letter-spacing="0.000" word-spacing="9.62">Compute</text>
<text transform="translate(1701.78 769.20) scale(1.2000 1)" font-family="Liberation Sans" font-size="38.50" stroke-width="1.0" letter-spacing="0.368" word-spacing="9.62">Token Masks</text>
<text transform="translate(1688.83 823.10) scale(1.2000 1)" font-family="Liberation Sans" font-size="38.50" stroke-width="1.0" letter-spacing="1.009" word-spacing="9.62">(from scratch)</text>
<text transform="translate(1646.09 1038.00) scale(1.2000 1)" font-family="Liberation Sans" font-size="31.00" stroke-width="0.3" letter-spacing="0.145" word-spacing="7.75">Question:</text>
<text transform="translate(1586.86 1082.70) scale(1.2000 1)" font-family="Liberation Sans" font-size="31.00" stroke-width="0.3" letter-spacing="0.151" word-spacing="7.75">“Total Revenue?”</text>
</g>
<g fill="#1e1e1e" stroke="#1e1e1e" stroke-width="0.85" opacity="0.999" font-family="Liberation Mono" font-size="31.33" style="white-space:pre">
<text x="1143.9" y="611.8" xml:space="preserve">{columns:</text>
<text x="1143.9" y="651.8" xml:space="preserve">  [Date, Revenue,</text>
<text x="1143.9" y="692.7" xml:space="preserve">  Region]</text>
<text x="1143.9" y="730" xml:space="preserve">}</text>
<text x="1144.2" y="962.9" xml:space="preserve">{columns:</text>
<text x="1144.2" y="1003.2" xml:space="preserve">  [PatientID,</text>
<text x="1144.2" y="1042.8" xml:space="preserve">  Diagnosis, Age]</text>
<text x="1144.2" y="1080.5" xml:space="preserve">}</text>
</g>
<path d="M1469.8 1032.5 L1468.4 1042.5" stroke="#1e1e1e" stroke-width="2.6" stroke-linecap="round" fill="none"/>
<circle cx="1470.2" cy="1032.8" r="2.1" fill="#1e1e1e"/>
</svg></body></html>
